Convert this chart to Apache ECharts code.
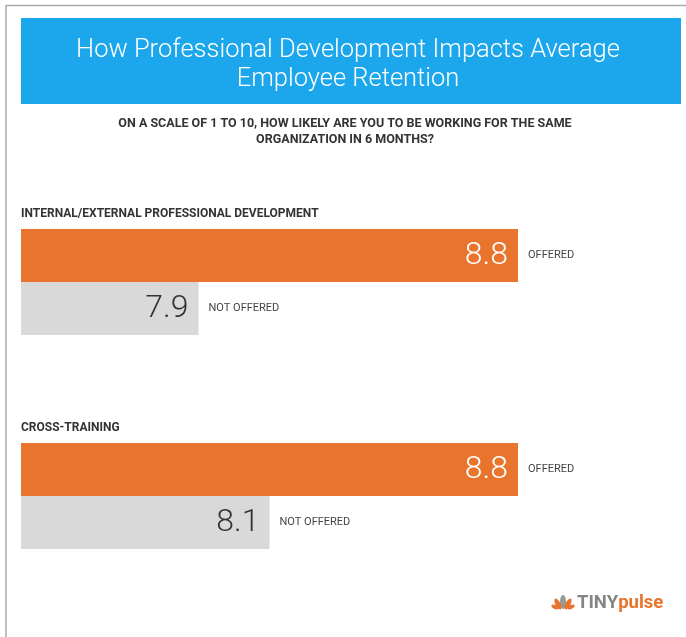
<!DOCTYPE html>
<html>
<head>
<meta charset="utf-8">
<script src="https://cdn.jsdelivr.net/npm/echarts@6/dist/echarts.min.js"></script>
<style>
  html, body { margin: 0; padding: 0; background: #fff; }
  #main { width: 686px; height: 637px; }
</style>
</head>
<body>
<div id="main"></div>
<script>
// data
var groups = ['INTERNAL/EXTERNAL PROFESSIONAL DEVELOPMENT', 'CROSS-TRAINING'];
var statuses = ['OFFERED', 'NOT OFFERED'];
var offered = [8.8, 8.8];
var notOffered = [7.9, 8.1];

var ORANGE = '#E8742D';
var GREY = '#D9D9D9';
var FONT = 'Roboto';

var myChart = echarts.init(document.getElementById('main'));

var gridTops = [229, 443];
var grids = [], xAxes = [], yAxes = [], series = [], titles = [];

titles.push({
    text: 'How Professional Development Impacts Average\nEmployee Retention',
    left: 348, top: 36, textAlign: 'center', padding: 0,
    textStyle: { fontFamily: FONT, fontWeight: 300, fontSize: 25.5, lineHeight: 29, color: '#fff' }
});
titles.push({
    text: 'ON A SCALE OF 1 TO 10, HOW LIKELY ARE YOU TO BE WORKING FOR THE SAME\nORGANIZATION IN 6 MONTHS?',
    left: 345, top: 116, textAlign: 'center', padding: 0,
    textStyle: { fontFamily: FONT, fontWeight: 'bold', fontSize: 12.5, lineHeight: 16, color: '#333' }
});

for (var i = 0; i < groups.length; i++) {
    titles.push({
        text: groups[i], left: 21, top: gridTops[i] - 21, padding: 0,
        textStyle: { fontFamily: FONT, fontWeight: 'bold', fontSize: 12, color: '#333' }
    });
    grids.push({ left: 21, top: gridTops[i], width: 639, height: 106 });
    xAxes.push({ type: 'value', gridIndex: i, min: 7.4, max: 9.2, show: false });
    yAxes.push({ type: 'category', gridIndex: i, data: statuses, inverse: true, show: false });
    var vals = [offered[i], notOffered[i]];
    series.push({
        type: 'bar', xAxisIndex: i, yAxisIndex: i,
        barCategoryGap: 0, barGap: '-100%', silent: true,
        data: [
            { value: vals[0], itemStyle: { color: ORANGE }, label: { color: '#fff' } },
            { value: vals[1], itemStyle: { color: GREY }, label: { color: '#333' } }
        ],
        label: {
            show: true, position: 'insideRight', distance: 10,
            fontFamily: FONT, fontWeight: 300, fontSize: 32,
            formatter: function (p) { return p.value.toFixed(1); }
        }
    });
    series.push({
        type: 'bar', xAxisIndex: i, yAxisIndex: i,
        barCategoryGap: 0, barGap: '-100%', silent: true,
        itemStyle: { color: 'rgba(0,0,0,0)' },
        data: vals,
        label: {
            show: true, position: 'right', distance: 10,
            fontFamily: FONT, fontSize: 11, color: '#444',
            formatter: '{b}'
        }
    });
}

var option = {
    animation: false,
    backgroundColor: '#fff',
    title: titles,
    grid: grids,
    xAxis: xAxes,
    yAxis: yAxes,
    series: series,
    graphic: [
        { type: 'line', shape: { x1: 6, y1: 5.5, x2: 686, y2: 5.5 }, style: { stroke: '#aaa', lineWidth: 1.5 }, z: -1 },
        { type: 'line', shape: { x1: 6, y1: 5, x2: 6, y2: 637 }, style: { stroke: '#aaa', lineWidth: 1.5 }, z: -1 },
        { type: 'rect', shape: { x: 21, y: 18, width: 660, height: 86 }, style: { fill: '#1CA7EC' }, z: -1 },
        // logo
        { type: 'ellipse', shape: { cx: 563, cy: 602, rx: 3, ry: 7 }, style: { fill: '#999' } },
        { type: 'ellipse', shape: { cx: 558, cy: 604, rx: 2.5, ry: 6 }, rotation: 0.5, originX: 558, originY: 604, style: { fill: ORANGE } },
        { type: 'ellipse', shape: { cx: 568, cy: 604, rx: 2.5, ry: 6 }, rotation: -0.5, originX: 568, originY: 604, style: { fill: ORANGE } },
        { type: 'ellipse', shape: { cx: 555, cy: 607, rx: 2, ry: 4 }, rotation: 1.1, originX: 555, originY: 607, style: { fill: ORANGE } },
        { type: 'ellipse', shape: { cx: 571, cy: 607, rx: 2, ry: 4 }, rotation: -1.1, originX: 571, originY: 607, style: { fill: ORANGE } },
        {
            type: 'text', x: 577, y: 603,
            style: {
                text: '{a|TINY}{b|pulse}', verticalAlign: 'middle',
                rich: {
                    a: { fontFamily: FONT, fontWeight: 'bold', fontSize: 18.5, fill: '#858585' },
                    b: { fontFamily: FONT, fontWeight: 'bold', fontSize: 18.5, fill: ORANGE }
                }
            }
        }
    ]
};

myChart.setOption(option, true);
</script>
</body>
</html>
